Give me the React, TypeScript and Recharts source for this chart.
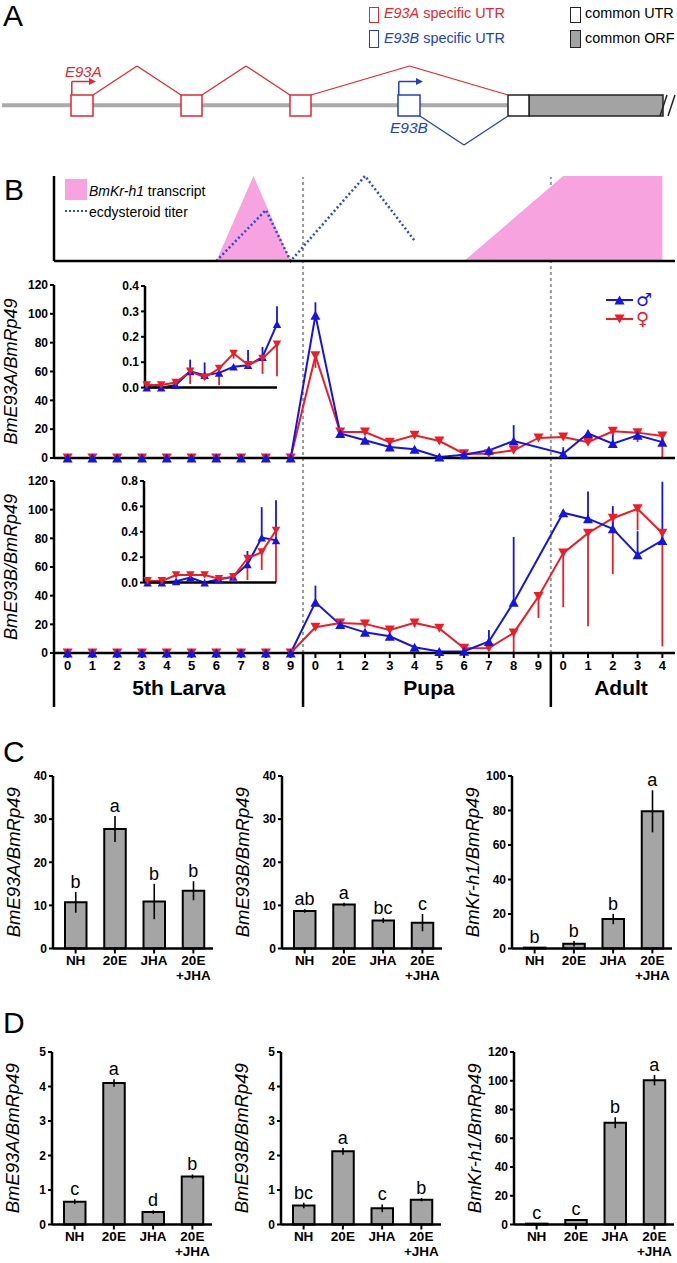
import React from 'react'
import {
  ComposedChart,
  Line,
  Area,
  Bar,
  XAxis,
  YAxis,
  ErrorBar,
  ReferenceLine,
  ReferenceArea,
  ReferenceDot,
  LabelList,
} from 'recharts'

const FONT = "'Liberation Sans', Arial, Helvetica, sans-serif"
const RED = '#ee1c25'
const BLUE = '#1414e6'
const SCHEME_RED = '#e8262c'
const SCHEME_BLUE = '#2040c8'
const PINK = '#f7a3e0'

// ---- panel A: gene model (diagram units) ----
const utrA = [[71, 93], [181, 202], [290, 311]]
const utrB = [398, 420]
const utrCommon = [508, 529]
const orf = [529, 663]

// ---- panel B: stages ----
const stageIdx = [0, 1, 2, 3, 4, 5, 6, 7, 8, 9, 10, 11, 12, 13, 14, 15, 16, 17, 18, 19, 20, 21, 22, 23, 24]
const stageLabels = ['0', '1', '2', '3', '4', '5', '6', '7', '8', '9', '0', '1', '2', '3', '4', '5', '6', '7', '8', '9', '0', '1', '2', '3', '4']

const krX = [6, 7.5, 9, 16, 20, 24]
const krLevel = [0, 1, 0, 0, 1, 1]
const ecX = [6, 8, 9, 12, 14]
const ecLevel = [0, 0.6, 0, 1, 0.24]

const maleA = [0, 0, 0, 0, 0, 0, 0, 0, 0, 0, 99, 17, 12.3, 7.6, 6, 0.7, 2.3, 5.3, 11.8, null, 3, 17, 10, 15.7, 11]
const maleAErr = [0, 0, 0, 0, 0, 0, 0, 0, 0, 0, 9, 1, 1.5, 1, 1.5, 0, 0.5, 1, 11, null, 4.5, 2, 9, 2, 3]
const femaleA = [0, 0, 0, 0, 0, 0, 0, 0, 0, 0, 71, 18, 18, 11, 15.7, 11.8, 3, 3, 5.3, 13.9, 14.6, 11, 18.5, 17.6, 15.3]
const femaleAErr = [0, 0, 0, 0, 0, 0, 0, 0, 0, 0, 8.5, 1, 1, 1, 2, 2, 1, 1, 1.5, 1, 1, 2, 1, 6.5, 15.3]

const maleB = [0, 0, 0, 0, 0, 0, 0, 0, 0, 0, 35.4, 19.8, 14.4, 11.7, 4, 1, 1.2, 8, 35.4, null, 97.9, 93.7, 86.7, 68.5, 78.5]
const maleBErr = [0, 0, 0, 0, 0, 0, 0, 0, 0, 0, 11.6, 1, 1, 1, 1, 0.5, 0.5, 8, 45.6, null, 2, 19, 15.8, 16.5, 41]
const femaleB = [0, 0, 0, 0, 0, 0, 0, 0, 0, 0, 18, 21, 20.3, 16, 21, 17.2, 3.3, 3.5, 14, 39.4, 69.7, 83.6, 94, 100.6, 83.6]
const femaleBErr = [0, 0, 0, 0, 0, 0, 0, 0, 0, 0, 1, 2, 1, 1, 3, 1, 1, 1, 14, 14.9, 37.7, 65, 39, 15, 79]

const larvaIdx = [0, 1, 2, 3, 4, 5, 6, 7, 8, 9]
const maleAIn = [0, 0, 0.01, 0.064, 0.049, 0.058, 0.082, 0.088, 0.12, 0.25]
const maleAInErr = [0, 0, 0, 0.046, 0.05, 0, 0, 0.06, 0.04, 0.07]
const femaleAIn = [0.01, 0.01, 0.02, 0.064, 0.04, 0.075, 0.134, 0.09, 0.114, 0.17]
const femaleAInErr = [0, 0, 0, 0.05, 0.01, 0.065, 0.02, 0.01, 0.06, 0.125]

const maleBIn = [0, 0, 0.01, 0.04, 0, 0.026, 0.045, 0.144, 0.354, 0.333]
const maleBInErr = [0, 0, 0, 0, 0, 0.01, 0, 0.105, 0.24, 0.315]
const femaleBIn = [0.013, 0.013, 0.06, 0.06, 0.06, 0.03, 0.045, 0.19, 0.24, 0.41]
const femaleBInErr = [0, 0, 0, 0, 0, 0, 0, 0.17, 0.14, 0.41]

const ticksMain = [0, 20, 40, 60, 80, 100, 120]
const ticksInA = [0, 0.1, 0.2, 0.3, 0.4]
const ticksInB = [0, 0.2, 0.4, 0.6, 0.8]

// ---- panels C & D ----
const treatments = ['NH', '20E', 'JHA', '20E\n+JHA']
const ticks40 = [0, 10, 20, 30, 40]
const ticks100 = [0, 20, 40, 60, 80, 100]
const ticks5 = [0, 1, 2, 3, 4, 5]
const ticks120 = [0, 20, 40, 60, 80, 100, 120]

const cE93A = [10.7, 27.7, 10.9, 13.4]
const cE93AErr = [2.4, 3.0, 4.1, 2.2]
const cE93ALet = ['b', 'a', 'b', 'b']
const cE93B = [8.7, 10.2, 6.5, 6.0]
const cE93BErr = [0.4, 0.4, 0.6, 2.0]
const cE93BLet = ['ab', 'a', 'bc', 'c']
const cKr = [0.5, 2.8, 17.1, 79.5]
const cKrErr = [0.3, 1.6, 3, 12.2]
const cKrLet = ['b', 'b', 'b', 'a']

const dE93A = [0.66, 4.1, 0.36, 1.39]
const dE93AErr = [0.07, 0.11, 0.05, 0.06]
const dE93ALet = ['c', 'a', 'd', 'b']
const dE93B = [0.55, 2.12, 0.47, 0.72]
const dE93BErr = [0.08, 0.1, 0.11, 0.05]
const dE93BLet = ['bc', 'a', 'c', 'b']
const dKr = [0.6, 3.2, 70.8, 100.4]
const dKrErr = [0.3, 0.6, 3.8, 3.6]
const dKrLet = ['c', 'c', 'b', 'a']

const AX = { stroke: '#000', strokeWidth: 2.5 }
const TL = { stroke: '#000', strokeWidth: 2 }
const TICK = { fontSize: 12, fontWeight: 'bold', fill: '#000', fontFamily: FONT }

const STAGE_DOMAIN: [number, number] = [-0.55, 24.51]

const hormoneRows = [...new Set([...krX, ...ecX])]
  .sort((a, b) => a - b)
  .map((x) => {
    const ki = krX.indexOf(x)
    const ei = ecX.indexOf(x)
    return { x, kr: ki >= 0 ? krLevel[ki] : undefined, ec: ei >= 0 ? ecLevel[ei] : undefined }
  })

const mkRows = (m: any[], mErr: any[], f: any[], fErr: any[], idx: number[]) =>
  idx.map((i) => ({
    i,
    m: m[i],
    f: f[i],
    mErr: mErr[i] == null ? null : [0, mErr[i]],
    fErr: fErr[i] == null ? null : [fErr[i], 0],
  }))

const rowsA = mkRows(maleA, maleAErr, femaleA, femaleAErr, stageIdx)
const rowsB = mkRows(maleB, maleBErr, femaleB, femaleBErr, stageIdx)
const rowsAIn = mkRows(maleAIn, maleAInErr, femaleAIn, femaleAInErr, larvaIdx)
const rowsBIn = mkRows(maleBIn, maleBInErr, femaleBIn, femaleBInErr, larvaIdx)
// flat rows used by the guide/separator overlays
const guideRows = stageIdx.map((i) => ({ i, z: 0 }))

function tri(color: string, size: number, down: boolean) {
  return (p: any) => {
    const { cx, cy, index } = p
    if (cx == null || cy == null || Number.isNaN(cx) || Number.isNaN(cy)) return <g key={`n${index}`} />
    const h = size * 0.9
    const pts = down
      ? `${cx - size / 2},${cy - h / 2} ${cx + size / 2},${cy - h / 2} ${cx},${cy + h / 2}`
      : `${cx - size / 2},${cy + h / 2} ${cx + size / 2},${cy + h / 2} ${cx},${cy - h / 2}`
    return <polygon key={`t${index}`} points={pts} fill={color} />
  }
}

function Txt({ x, y, size, children, style, center }: any) {
  return (
    <div
      style={{
        position: 'absolute',
        left: x,
        top: y - 0.8465 * size,
        fontSize: size,
        lineHeight: 1,
        whiteSpace: 'nowrap',
        transform: center ? 'translateX(-50%)' : undefined,
        ...style,
      }}
    >
      {children}
    </div>
  )
}

function GeneModel() {
  const top = 95
  const bottom = 116
  const peak = 66
  const valley = 145
  const tss = 81.5
  const redChain = [...utrA, utrCommon]
  const arrowHead = (color: string) => (p: any) =>
    <polygon points={`${p.cx - 6},${p.cy - 3.5} ${p.cx + 1},${p.cy} ${p.cx - 6},${p.cy + 3.5}`} fill={color} />
  return (
    <ComposedChart width={677} height={160} data={[{ x: 0, y: 0 }, { x: 677, y: 160 }]} margin={{ top: 0, right: 0, bottom: 0, left: 0 }}>
      <XAxis dataKey="x" type="number" domain={[0, 677]} hide />
      <YAxis type="number" domain={[0, 160]} reversed hide />
      <Line dataKey="y" stroke="none" dot={false} activeDot={false} isAnimationActive={false} />
      <ReferenceArea x1={2} x2={utrCommon[0]} y1={103.3} y2={107.3} fill="#aaaaaa" fillOpacity={1} stroke="none" />
      {utrA.map(([a, b], k) => (
        <ReferenceArea key={`ra${k}`} x1={a} x2={b} y1={top} y2={bottom} fill="#fff" fillOpacity={1} stroke={SCHEME_RED} strokeWidth={1.5} />
      ))}
      <ReferenceArea x1={utrB[0]} x2={utrB[1]} y1={top} y2={bottom} fill="#fff" fillOpacity={1} stroke={SCHEME_BLUE} strokeWidth={1.5} />
      <ReferenceArea x1={orf[0]} x2={orf[1]} y1={top} y2={bottom} fill="#a3a3a3" fillOpacity={1} stroke="#222" strokeWidth={1.5} />
      <ReferenceArea x1={utrCommon[0]} x2={utrCommon[1]} y1={top} y2={bottom} fill="#fff" fillOpacity={1} stroke="#222" strokeWidth={1.5} />
      {redChain.slice(0, -1).map((ex, k) => {
        const nxt = redChain[k + 1]
        const mid = (ex[1] + nxt[0]) / 2
        return (
          <React.Fragment key={`in${k}`}>
            <ReferenceLine segment={[{ x: ex[1], y: top }, { x: mid, y: peak }]} stroke={SCHEME_RED} strokeWidth={1.3} ifOverflow="visible" />
            <ReferenceLine segment={[{ x: mid, y: peak }, { x: nxt[0], y: top }]} stroke={SCHEME_RED} strokeWidth={1.3} ifOverflow="visible" />
          </React.Fragment>
        )
      })}
      <ReferenceLine segment={[{ x: utrB[1], y: bottom }, { x: (utrB[1] + utrCommon[0]) / 2, y: valley }]} stroke={SCHEME_BLUE} strokeWidth={1.3} ifOverflow="visible" />
      <ReferenceLine segment={[{ x: (utrB[1] + utrCommon[0]) / 2, y: valley }, { x: utrCommon[0], y: bottom }]} stroke={SCHEME_BLUE} strokeWidth={1.3} ifOverflow="visible" />
      <ReferenceLine segment={[{ x: utrA[0][0] + 0.8, y: top }, { x: utrA[0][0] + 0.8, y: tss }]} stroke={SCHEME_RED} strokeWidth={1.5} ifOverflow="visible" />
      <ReferenceLine segment={[{ x: utrA[0][0] + 0.8, y: tss }, { x: utrA[0][0] + 20, y: tss }]} stroke={SCHEME_RED} strokeWidth={1.5} ifOverflow="visible" />
      <ReferenceDot x={utrA[0][0] + 24} y={tss} r={3} shape={arrowHead(SCHEME_RED)} ifOverflow="visible" />
      <ReferenceLine segment={[{ x: utrB[0] + 0.8, y: top }, { x: utrB[0] + 0.8, y: tss }]} stroke={SCHEME_BLUE} strokeWidth={1.5} ifOverflow="visible" />
      <ReferenceLine segment={[{ x: utrB[0] + 0.8, y: tss }, { x: utrB[0] + 20, y: tss }]} stroke={SCHEME_BLUE} strokeWidth={1.5} ifOverflow="visible" />
      <ReferenceDot x={utrB[0] + 24} y={tss} r={3} shape={arrowHead(SCHEME_BLUE)} ifOverflow="visible" />
      <ReferenceLine segment={[{ x: 660, y: bottom }, { x: 667, y: top }]} stroke="#222" strokeWidth={1.5} ifOverflow="visible" />
      <ReferenceLine segment={[{ x: 668, y: bottom }, { x: 675, y: top }]} stroke="#222" strokeWidth={1.5} ifOverflow="visible" />
    </ComposedChart>
  )
}

function StagePlot({ rows, top, plotH, domain, ticks, ylab, labels }: any) {
  const xh = labels ? 22 : 10
  return (
    <div style={{ position: 'absolute', left: -32, top: top - 10 }}>
      <ComposedChart width={709} height={10 + plotH + xh} data={rows} margin={{ top: 10, right: 2, bottom: 0, left: 0 }}>
        <XAxis
          dataKey="i"
          type="number"
          domain={STAGE_DOMAIN}
          ticks={stageIdx}
          interval={0}
          height={xh}
          tick={labels ? { fontSize: 13, fontWeight: 'bold', fill: '#000', fontFamily: FONT } : false}
          tickFormatter={(v: number) => stageLabels[v]}
          tickSize={5}
          tickMargin={3}
          axisLine={AX}
          tickLine={TL}
        />
        <YAxis
          type="number"
          domain={domain}
          ticks={ticks}
          interval={0}
          width={86}
          tick={TICK}
          tickSize={4}
          tickMargin={2}
          axisLine={AX}
          tickLine={TL}
          label={{ value: ylab, angle: -90, position: 'center', fontSize: 18, fontStyle: 'italic', fill: '#000', fontFamily: FONT }}
        />
        <Line dataKey="f" stroke={RED} strokeWidth={2} connectNulls dot={tri(RED, 10, true)} activeDot={false} isAnimationActive={false}>
          <ErrorBar dataKey="fErr" width={0} stroke={RED} strokeWidth={1.8} direction="y" />
        </Line>
        <Line dataKey="m" stroke={BLUE} strokeWidth={2} connectNulls dot={tri(BLUE, 10, false)} activeDot={false} isAnimationActive={false}>
          <ErrorBar dataKey="mErr" width={0} stroke={BLUE} strokeWidth={1.8} direction="y" />
        </Line>
      </ComposedChart>
    </div>
  )
}

function Inset({ rows, left, top, xmin, domain, ticks }: any) {
  return (
    <div style={{ position: 'absolute', left: left - 45, top: top - 8 }}>
      <ComposedChart width={182} height={8 + 101.6 + 8} data={rows} margin={{ top: 8, right: 5, bottom: 0, left: 0 }}>
        <XAxis dataKey="i" type="number" domain={[xmin, 9]} ticks={larvaIdx} interval={0} height={8} tick={false} tickSize={5} axisLine={AX} tickLine={TL} />
        <YAxis
          type="number"
          domain={domain}
          ticks={ticks}
          interval={0}
          width={45}
          tick={TICK}
          tickFormatter={(v: number) => v.toFixed(1)}
          tickSize={4}
          tickMargin={2}
          axisLine={AX}
          tickLine={TL}
        />
        <Line dataKey="m" stroke={BLUE} strokeWidth={2} dot={tri(BLUE, 8.5, false)} activeDot={false} isAnimationActive={false}>
          <ErrorBar dataKey="mErr" width={0} stroke={BLUE} strokeWidth={1.8} direction="y" />
        </Line>
        <Line dataKey="f" stroke={RED} strokeWidth={2} dot={tri(RED, 8.5, true)} activeDot={false} isAnimationActive={false}>
          <ErrorBar dataKey="fErr" width={0} stroke={RED} strokeWidth={1.8} direction="y" />
        </Line>
      </ComposedChart>
    </div>
  )
}

function TwoLineTick(p: any) {
  const parts = String(p.payload.value).split('\n')
  return (
    <text x={p.x} y={p.y} textAnchor="middle" fontSize={13.5} fontWeight="bold" fill="#000" fontFamily={FONT}>
      {parts.map((s, k) => (
        <tspan key={k} x={p.x} dy={k === 0 ? 9 : 15}>
          {s}
        </tspan>
      ))}
    </text>
  )
}

function BarPanel({ axisX, plotTop, values, errs, letters, domain, ticks, ylab }: any) {
  const rows = treatments.map((name, i) => ({ name, v: values[i], e: errs[i], top: values[i] + errs[i], letter: letters[i] }))
  return (
    <div style={{ position: 'absolute', left: axisX - 80, top: plotTop - 10 }}>
      <ComposedChart width={244} height={222.5} data={rows} margin={{ top: 10, right: 4, bottom: 0, left: 0 }}>
        <XAxis
          dataKey="name"
          type="category"
          interval={0}
          height={40}
          padding={{ left: 3, right: 0 }}
          tick={(p: any) => <TwoLineTick {...p} />}
          tickSize={5}
          tickMargin={2}
          axisLine={AX}
          tickLine={TL}
        />
        <YAxis
          type="number"
          domain={domain}
          ticks={ticks}
          interval={0}
          width={80}
          tick={TICK}
          tickSize={4}
          tickMargin={2}
          axisLine={AX}
          tickLine={TL}
          label={{ value: ylab, angle: -90, position: 'center', fontSize: 18.5, fontStyle: 'italic', fill: '#000', fontFamily: FONT }}
        />
        <Bar dataKey="v" fill="#a5a5a5" stroke="#000" strokeWidth={2} barSize={21.5} isAnimationActive={false}>
          <ErrorBar dataKey="e" width={0} stroke="#000" strokeWidth={1.6} />
        </Bar>
        <Line dataKey="top" stroke="none" dot={false} activeDot={false} isAnimationActive={false}>
          <LabelList dataKey="letter" position="top" offset={4} fill="#000" fontSize={18} fontFamily={FONT} />
        </Line>
      </ComposedChart>
    </div>
  )
}

export default function App() {
  return (
    <div style={{ position: 'absolute', left: 0, top: 0, width: 677, height: 1263, background: '#fff', overflow: 'hidden', fontFamily: FONT }}>
      {/* Panel A */}
      <Txt x={3} y={26} size={30}>A</Txt>
      <div style={{ position: 'absolute', left: 369, top: 7, width: 8, height: 14, border: `1.5px solid ${SCHEME_RED}` }} />
      <Txt x={384} y={18.5} size={14.4} style={{ color: SCHEME_RED }}>
        <i>E93A</i> specific UTR
      </Txt>
      <div style={{ position: 'absolute', left: 369, top: 30, width: 8, height: 16, border: `1.5px solid ${SCHEME_BLUE}` }} />
      <Txt x={384} y={42.7} size={14.4} style={{ color: SCHEME_BLUE }}>
        <i>E93B</i> specific UTR
      </Txt>
      <div style={{ position: 'absolute', left: 570, top: 7, width: 9, height: 14, border: '1.5px solid #222', background: '#fff' }} />
      <Txt x={585} y={18.5} size={14.4}>common UTR</Txt>
      <div style={{ position: 'absolute', left: 570, top: 30, width: 9, height: 16, border: '1.5px solid #222', background: '#a3a3a3' }} />
      <Txt x={585} y={42.7} size={14.4}>common ORF</Txt>
      <div style={{ position: 'absolute', left: 0, top: 0 }}>
        <GeneModel />
      </div>
      <Txt x={65} y={76.5} size={15} style={{ color: SCHEME_RED, fontStyle: 'italic' }}>E93A</Txt>
      <Txt x={390} y={133.3} size={15.5} style={{ color: SCHEME_BLUE, fontStyle: 'italic' }}>E93B</Txt>

      {/* Panel B guides */}
      <div style={{ position: 'absolute', left: 0, top: 177 }}>
        <ComposedChart width={677} height={476} data={guideRows} margin={{ top: 0, right: 2, bottom: 0, left: 54 }}>
          <XAxis dataKey="i" type="number" domain={STAGE_DOMAIN} hide />
          <YAxis type="number" domain={[0, 1]} hide />
          <Line dataKey="z" stroke="none" dot={false} activeDot={false} isAnimationActive={false} />
          <ReferenceLine x={9.5} stroke="#9a9a9a" strokeWidth={2} strokeDasharray="3 3" />
          <ReferenceLine x={19.5} stroke="#9a9a9a" strokeWidth={2} strokeDasharray="3 3" />
        </ComposedChart>
      </div>

      <Txt x={4} y={200} size={30}>B</Txt>
      {/* hormone / Kr-h1 schematic */}
      <div style={{ position: 'absolute', left: -32, top: 170 }}>
        <ComposedChart width={709} height={101} data={hormoneRows} margin={{ top: 6, right: 2, bottom: 0, left: 0 }}>
          <XAxis dataKey="x" type="number" domain={STAGE_DOMAIN} ticks={stageIdx} interval={0} height={10} tick={false} tickSize={6} axisLine={AX} tickLine={TL} />
          <YAxis type="number" domain={[0, 1]} width={86} tick={false} tickLine={false} axisLine={AX} />
          <Area dataKey="kr" type="linear" fill={PINK} fillOpacity={1} stroke="none" connectNulls isAnimationActive={false} />
          <Line dataKey="ec" type="linear" stroke="#2a48dc" strokeWidth={2.5} strokeDasharray="2 2.5" connectNulls dot={false} activeDot={false} isAnimationActive={false} />
        </ComposedChart>
      </div>
      <div style={{ position: 'absolute', left: 65, top: 179, width: 22, height: 21, background: PINK }} />
      <Txt x={89} y={196} size={14}>
        <i>BmKr-h1</i> transcript
      </Txt>
      <div style={{ position: 'absolute', left: 65, top: 210, width: 22, height: 0, borderTop: '2.5px dotted #2a48dc' }} />
      <Txt x={89} y={217} size={14}>ecdysteroid titer</Txt>

      <StagePlot rows={rowsA} top={285} plotH={173} domain={[0, 120]} ticks={ticksMain} ylab="BmE93A/BmRp49" />
      <Inset rows={rowsAIn} left={145} top={285.7} xmin={-0.12} domain={[0, 0.4]} ticks={ticksInA} />
      <StagePlot rows={rowsB} top={480.7} plotH={172} domain={[0, 120]} ticks={ticksMain} ylab="BmE93B/BmRp49" labels />
      <Inset rows={rowsBIn} left={144} top={480.7} xmin={-0.25} domain={[0, 0.8]} ticks={ticksInB} />

      {/* legend */}
      <div style={{ position: 'absolute', left: 606, top: 290, fontFamily: "'DejaVu Sans', sans-serif", fontSize: 18, lineHeight: '18px' }}>
        <div style={{ display: 'flex', alignItems: 'center', color: BLUE, height: 19 }}>
          <svg width={27} height={14}>
            <line x1={0} y1={7} x2={27} y2={7} stroke={BLUE} strokeWidth={2} />
            <polygon points="8.5,11.5 18.5,11.5 13.5,2.5" fill={BLUE} />
          </svg>
          <span style={{ marginLeft: 3 }}>♂</span>
        </div>
        <div style={{ display: 'flex', alignItems: 'center', color: RED, height: 19 }}>
          <svg width={27} height={14}>
            <line x1={0} y1={7} x2={27} y2={7} stroke={RED} strokeWidth={2} />
            <polygon points="8.5,2.5 18.5,2.5 13.5,11.5" fill={RED} />
          </svg>
          <span style={{ marginLeft: 3 }}>♀</span>
        </div>
      </div>

      {/* stage separators */}
      <div style={{ position: 'absolute', left: 0, top: 652 }}>
        <ComposedChart width={677} height={55} data={guideRows} margin={{ top: 0, right: 2, bottom: 0, left: 54 }}>
          <XAxis dataKey="i" type="number" domain={STAGE_DOMAIN} hide />
          <YAxis type="number" domain={[0, 1]} hide />
          <Line dataKey="z" stroke="none" dot={false} activeDot={false} isAnimationActive={false} />
          <ReferenceLine x={STAGE_DOMAIN[0]} stroke="#000" strokeWidth={2.5} ifOverflow="visible" />
          <ReferenceLine x={9.5} stroke="#000" strokeWidth={2.5} />
          <ReferenceLine x={19.5} stroke="#000" strokeWidth={2.5} />
        </ComposedChart>
      </div>
      <Txt x={179} y={695} size={21} center style={{ fontWeight: 'bold' }}>5th Larva</Txt>
      <Txt x={429} y={695} size={21} center style={{ fontWeight: 'bold' }}>Pupa</Txt>
      <Txt x={621} y={695} size={21} center style={{ fontWeight: 'bold' }}>Adult</Txt>

      {/* Panel C */}
      <Txt x={3} y={762.5} size={30}>C</Txt>
      <BarPanel axisX={53.3} plotTop={775.7} values={cE93A} errs={cE93AErr} letters={cE93ALet} domain={[0, 40]} ticks={ticks40} ylab="BmE93A/BmRp49" />
      <BarPanel axisX={282} plotTop={775.7} values={cE93B} errs={cE93BErr} letters={cE93BLet} domain={[0, 40]} ticks={ticks40} ylab="BmE93B/BmRp49" />
      <BarPanel axisX={512} plotTop={775.7} values={cKr} errs={cKrErr} letters={cKrLet} domain={[0, 100]} ticks={ticks100} ylab="BmKr-h1/BmRp49" />

      {/* Panel D */}
      <Txt x={3} y={1033} size={30}>D</Txt>
      <BarPanel axisX={52} plotTop={1052} values={dE93A} errs={dE93AErr} letters={dE93ALet} domain={[0, 5]} ticks={ticks5} ylab="BmE93A/BmRp49" />
      <BarPanel axisX={281} plotTop={1052} values={dE93B} errs={dE93BErr} letters={dE93BLet} domain={[0, 5]} ticks={ticks5} ylab="BmE93B/BmRp49" />
      <BarPanel axisX={514} plotTop={1052} values={dKr} errs={dKrErr} letters={dKrLet} domain={[0, 120]} ticks={ticks120} ylab="BmKr-h1/BmRp49" />
    </div>
  )
}
